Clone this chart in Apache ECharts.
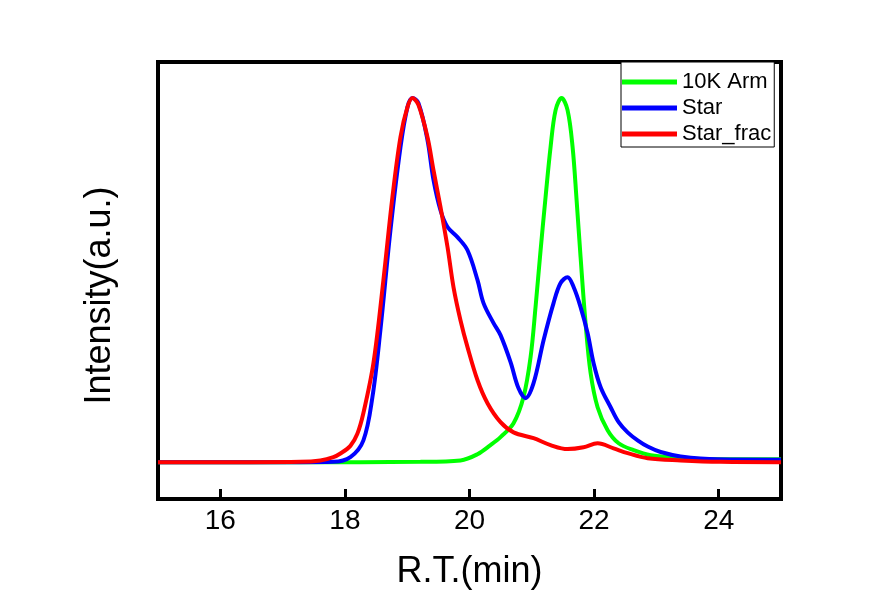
<!DOCTYPE html>
<html>
<head>
<meta charset="utf-8">
<script src="https://cdn.jsdelivr.net/npm/echarts@6/dist/echarts.min.js"></script>
<style>
html,body{margin:0;padding:0;background:#fff;}
#chart{width:884px;height:601px;}
</style>
</head>
<body>
<div id="chart"></div>
<script>
// ---- data ----
const xTicks = [16, 18, 20, 22, 24];
const seriesNames = ['10K Arm', 'Star', 'Star_frac'];

const armX = [15.0, 17.285, 19.213, 19.856, 20.128, 20.337, 20.498, 20.707, 20.867, 20.980, 21.060, 21.141, 21.221, 21.301, 21.382, 21.478, 21.574, 21.655, 21.719, 21.783, 21.863, 21.944, 22.056, 22.217, 22.394, 22.635, 22.908, 23.390, 24.032, 25.0];
const armY = [0, 0, 0.001, 0.005, 0.022, 0.047, 0.069, 0.107, 0.179, 0.288, 0.426, 0.582, 0.728, 0.865, 0.967, 1.0, 0.967, 0.865, 0.720, 0.563, 0.382, 0.245, 0.151, 0.088, 0.052, 0.033, 0.019, 0.011, 0.008, 0.008];

const starX = [15.0, 17.285, 17.815, 18.088, 18.297, 18.442, 18.570, 18.731, 18.892, 19.004, 19.084, 19.181, 19.325, 19.422, 19.534, 19.647, 19.807, 19.968, 20.129, 20.225, 20.386, 20.498, 20.659, 20.787, 20.900, 21.028, 21.189, 21.349, 21.462, 21.574, 21.671, 21.783, 21.896, 21.992, 22.105, 22.265, 22.394, 22.538, 22.699, 22.860, 23.068, 23.390, 23.984, 25.0];
const starY = [0, 0, 0.001, 0.014, 0.060, 0.179, 0.363, 0.637, 0.865, 0.975, 1.0, 0.986, 0.885, 0.775, 0.692, 0.646, 0.618, 0.582, 0.500, 0.437, 0.382, 0.349, 0.275, 0.203, 0.176, 0.217, 0.335, 0.437, 0.492, 0.508, 0.481, 0.426, 0.354, 0.272, 0.206, 0.151, 0.110, 0.082, 0.060, 0.043, 0.028, 0.016, 0.008, 0.007];

const fracX = [15.0, 16.48, 17.285, 17.606, 17.815, 17.928, 18.088, 18.200, 18.297, 18.458, 18.618, 18.763, 18.892, 19.004, 19.084, 19.181, 19.325, 19.422, 19.534, 19.647, 19.743, 19.855, 19.968, 20.129, 20.289, 20.498, 20.707, 21.028, 21.301, 21.574, 21.831, 22.056, 22.313, 22.538, 22.860, 23.390, 24.032, 25.0];
const fracY = [0, 0, 0.001, 0.005, 0.014, 0.024, 0.045, 0.078, 0.135, 0.272, 0.500, 0.728, 0.893, 0.975, 1.0, 0.981, 0.893, 0.802, 0.701, 0.591, 0.481, 0.390, 0.316, 0.225, 0.162, 0.110, 0.082, 0.066, 0.047, 0.036, 0.041, 0.052, 0.038, 0.025, 0.011, 0.005, 0.001, 0];

const colors = ['#00ff00', '#0000ff', '#ff0000'];
// --------------------------------------

function zip(xs, ys) { return xs.map((x, i) => [x, ys[i]]); }
const FONT = "'Liberation Sans', Arial, sans-serif";

const chart = echarts.init(document.getElementById('chart'), null, {renderer: 'canvas'});
const seriesData = [zip(armX, armY), zip(starX, starY), zip(fracX, fracY)];
const frameLine = {show: true, onZero: false, lineStyle: {color: '#000', width: 4, cap: 'square'}};
const off = {show: false};

chart.setOption({
  animation: false,
  backgroundColor: '#ffffff',
  grid: {left: 158, right: 103, top: 62, bottom: 102, show: false},
  legend: {
    data: seriesNames,
    orient: 'vertical',
    left: 621, top: 62,
    padding: [9, 3, 2, 1],
    itemGap: 4,
    itemWidth: 55, itemHeight: 5,
    icon: 'rect',
    borderColor: '#000', borderWidth: 1,
    backgroundColor: '#fff',
    textStyle: {fontFamily: FONT, fontSize: 22, color: '#000', lineHeight: 22, padding: [0, 0, 0, 0]},
    itemStyle: {borderWidth: 0}
  },
  xAxis: [{
    type: 'value', min: 15, max: 25,
    position: 'bottom',
    name: 'R.T.(min)', nameLocation: 'middle', nameGap: 55,
    nameTextStyle: {fontFamily: FONT, fontSize: 36, color: '#000'},
    axisLine: frameLine,
    axisTick: {show: true, inside: true, length: 10, lineStyle: {color: '#000', width: 3}, customValues: xTicks},
    axisLabel: {show: true, margin: 8, fontFamily: FONT, fontSize: 28, color: '#000', customValues: xTicks},
    splitLine: off, minorTick: off
  }, {
    type: 'value', min: 15, max: 25, position: 'top',
    axisLine: frameLine, axisTick: off, axisLabel: off, splitLine: off
  }, {
    type: 'value', min: 15, max: 25, position: 'bottom', offset: -10,
    axisLine: {show: false, onZero: false},
    axisTick: {show: true, inside: false, length: 10, lineStyle: {color: '#000', width: 3}, customValues: xTicks},
    axisLabel: off, splitLine: off, minorTick: off
  }],
  yAxis: [{
    type: 'value', min: -0.101, max: 1.099,
    position: 'left',
    name: 'Intensity(a.u.)', nameLocation: 'middle', nameGap: 40,
    nameTextStyle: {fontFamily: FONT, fontSize: 36, color: '#000', padding: [0, 30, 0, 0]},
    axisLine: frameLine, axisTick: off, axisLabel: off, splitLine: off
  }, {
    type: 'value', min: -0.101, max: 1.099, position: 'right',
    axisLine: frameLine, axisTick: off, axisLabel: off, splitLine: off
  }],
  series: seriesNames.map((name, i) => ({
    name: name, type: 'line', data: seriesData[i],
    xAxisIndex: 0, yAxisIndex: 0,
    smooth: 0.35, showSymbol: false, symbol: 'none',
    lineStyle: {color: colors[i], width: 4},
    itemStyle: {color: colors[i]},
    z: 2 + i
  }))
});
</script>
</body>
</html>
